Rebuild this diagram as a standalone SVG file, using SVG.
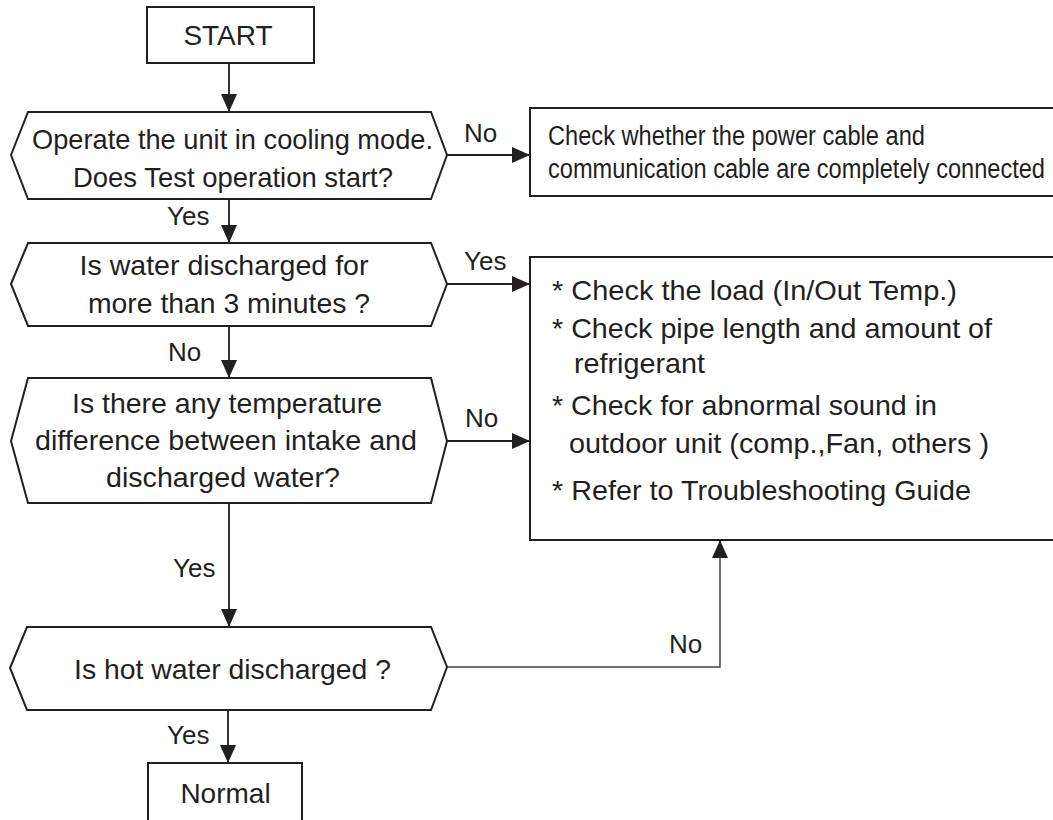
<svg xmlns="http://www.w3.org/2000/svg" width="1053" height="820" viewBox="0 0 1053 820">
<defs>
<style>
.box{fill:#fff;stroke:#231f20;stroke-width:2}
.t{font-family:"Liberation Sans",Arial,sans-serif;font-size:28px;fill:#231f20}
.tm{text-anchor:middle}
.lbl{font-family:"Liberation Sans",Arial,sans-serif;font-size:26px;fill:#231f20}
.c{fill:none;stroke:#231f20;stroke-width:1.8}
</style>
<marker id="ah" markerUnits="userSpaceOnUse" markerWidth="18" markerHeight="16" refX="18" refY="8" orient="auto">
<path d="M0,0 L18,8 L0,16 Z" fill="#231f20"/>
</marker>
</defs>
<rect width="1053" height="820" fill="#fff"/>

<g id="connectors">
<path class="c" d="M229,63 V112" marker-end="url(#ah)"/>
<path class="c" d="M447,155 H530" marker-end="url(#ah)"/>
<path class="c" d="M229,199 V243" marker-end="url(#ah)"/>
<path class="c" d="M447,284 H530" marker-end="url(#ah)"/>
<path class="c" d="M229,326 V378" marker-end="url(#ah)"/>
<path class="c" d="M447,441 H530" marker-end="url(#ah)"/>
<path class="c" d="M229,503 V627" marker-end="url(#ah)"/>
<path class="c" d="M447,667 H720 V540" marker-end="url(#ah)" style="stroke:#444;stroke-width:1.5"/>
<path class="c" d="M228,710 V763" marker-end="url(#ah)"/>
<text class="lbl" x="464" y="142">No</text>
<text class="lbl" x="167" y="225">Yes</text>
<text class="lbl" x="464" y="270">Yes</text>
<text class="lbl" x="168" y="361">No</text>
<text class="lbl" x="465" y="427">No</text>
<text class="lbl" x="173" y="577">Yes</text>
<text class="lbl" x="669" y="653">No</text>
<text class="lbl" x="167" y="744">Yes</text>
</g>

<g id="start">
<rect class="box" x="147" y="7" width="167" height="56"/>
<text class="t tm" x="228" y="45">START</text>
</g>

<g id="d1">
<polygon class="box" points="11,155 28,112 431,112 447,155 431,199 28,199"/>
<text class="t tm" x="232.5" y="149" textLength="401" lengthAdjust="spacingAndGlyphs">Operate the unit in cooling mode.</text>
<text class="t tm" x="233" y="187" textLength="320" lengthAdjust="spacingAndGlyphs">Does Test operation start?</text>
</g>

<g id="check-cable">
<rect class="box" x="530" y="108" width="540" height="88"/>
<text class="t" style="font-size:27px" x="548" y="145" textLength="377" lengthAdjust="spacingAndGlyphs">Check whether the power cable and</text>
<text class="t" style="font-size:27px" x="548" y="178" textLength="497" lengthAdjust="spacingAndGlyphs">communication cable are completely connected</text>
</g>

<g id="d2">
<polygon class="box" points="11,284 28,243 431,243 447,284 431,326 28,326"/>
<text class="t tm" x="224" y="275" textLength="289" lengthAdjust="spacingAndGlyphs">Is water discharged for</text>
<text class="t tm" x="229" y="313" textLength="282" lengthAdjust="spacingAndGlyphs">more than 3 minutes ?</text>
</g>

<g id="d3">
<polygon class="box" points="11,441 28,378 431,378 447,441 431,503 28,503"/>
<text class="t tm" x="227" y="413" textLength="310" lengthAdjust="spacingAndGlyphs">Is there any temperature</text>
<text class="t tm" x="226" y="450" textLength="382" lengthAdjust="spacingAndGlyphs">difference between intake and</text>
<text class="t tm" x="223" y="487" textLength="234" lengthAdjust="spacingAndGlyphs">discharged water?</text>
</g>

<g id="checks">
<rect class="box" x="530" y="257" width="540" height="283"/>
<text class="t" x="552" y="300" textLength="405" lengthAdjust="spacingAndGlyphs">* Check the load (In/Out Temp.)</text>
<text class="t" x="552" y="338" textLength="440" lengthAdjust="spacingAndGlyphs">* Check pipe length and amount of</text>
<text class="t" x="574" y="373" textLength="131" lengthAdjust="spacingAndGlyphs">refrigerant</text>
<text class="t" x="552" y="415" textLength="385" lengthAdjust="spacingAndGlyphs">* Check for abnormal sound in</text>
<text class="t" x="569" y="453" textLength="420" lengthAdjust="spacingAndGlyphs">outdoor unit (comp.,Fan, others )</text>
<text class="t" x="552" y="500" textLength="419" lengthAdjust="spacingAndGlyphs">* Refer to Troubleshooting Guide</text>
</g>

<g id="d4">
<polygon class="box" points="10,668 27,627 431,627 447,667 431,710 27,710"/>
<text class="t tm" x="232.5" y="679" textLength="317" lengthAdjust="spacingAndGlyphs">Is hot water discharged ?</text>
</g>

<g id="normal">
<rect class="box" x="148" y="763" width="154" height="70"/>
<text class="t tm" x="225.5" y="803">Normal</text>
</g>
</svg>
